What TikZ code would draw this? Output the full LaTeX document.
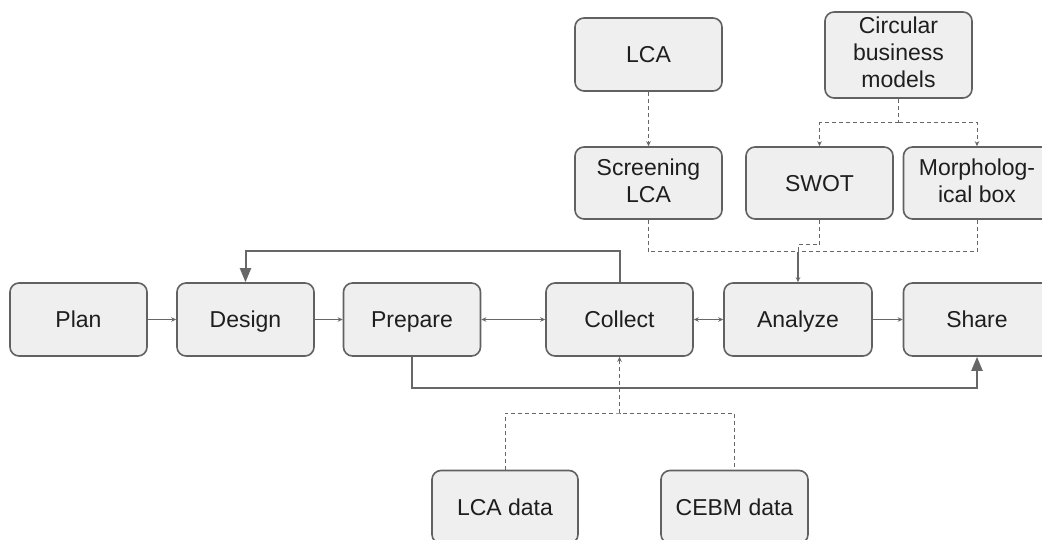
\documentclass[tikz,border=0pt]{standalone}
\usepackage{fontspec}
\setmainfont{Liberation Sans}
\usetikzlibrary{arrows.meta}
\definecolor{boxfill}{HTML}{EFEFEF}
\definecolor{boxline}{HTML}{616161}
\definecolor{linkcol}{HTML}{676767}
\definecolor{txt}{HTML}{1E1E1E}
% invisible strut that centres capitals in each box
\newcommand\capstrut{\rule[-5pt]{0pt}{26.5pt}}
\tikzset{
  box/.style={draw=boxline, fill=boxfill, line width=1.6pt, rounded corners=9pt,
    minimum width=147pt, minimum height=73pt, inner sep=0pt, align=center,
    text=txt, font=\fontsize{23}{27}\selectfont,
    execute at begin node=\capstrut, execute at end node=\capstrut},
  link/.style={draw=linkcol, line width=1.1pt, -{Stealth[length=5pt,width=4.5pt]}},
  dlink/.style={draw=linkcol, line width=1.1pt, {Stealth[length=5pt,width=4.5pt]}-{Stealth[length=5pt,width=4.5pt]}},
  dash link/.style={draw=linkcol, line width=1pt, dash pattern=on 4pt off 3pt},
  loop link/.style={draw=linkcol, line width=2pt, -{Triangle[length=14pt,width=11pt]}},
}
\begin{document}
\begin{tikzpicture}[x=1pt,y=-1pt]
\useasboundingbox (0,0) rectangle (1042,540);
\fill[white] (0,0) rectangle (1042,540);
\clip (0,0) rectangle (1042,540);

% main process chain
\node[box, minimum width=137pt] (plan)    at (78.5,319.5) {Plan};
\node[box, minimum width=137pt] (design)  at (245.5,319.5) {Design};
\node[box, minimum width=137pt] (prepare) at (412,319.5) {Prepare};
\node[box] (collect) at (619.5,319.5) {Collect};
\node[box, minimum width=148pt] (analyze) at (798,319.5) {Analyze};
\node[box] (share)   at (977,319.5) {Share};

% methods feeding the analysis
\node[box] (lca)   at (648.5,54.5) {LCA};
\node[box, minimum height=86pt] (cbm) at (898.5,55) {Circular\\business\\models};
\node[box, minimum height=72pt] (screen) at (648.5,183) {Screening\\LCA};
\node[box, minimum height=72pt] (swot)   at (819.5,183) {SWOT};
\node[box, minimum height=72pt] (morph)  at (977,183) {Morpholog-\\ical box};

% data sources
\node[box, minimum width=146pt] (lcadata) at (505,507) {LCA data};
\node[box] (cebm) at (734.5,507) {CEBM data};

% chain links
\draw[link]  (plan) -- (design);
\draw[link]  (design) -- (prepare);
\draw[dlink] (prepare) -- (collect);
\draw[dlink] (collect) -- (analyze);
\draw[link]  (analyze) -- (share);

% feedback and shortcut
\draw[loop link] (collect.north) -- ++(0,-31) -| (design.north);
\draw[loop link] (prepare.south) -- ++(0,31) -| (share.south);

% method links
\draw[dash link, -{Stealth[length=5pt,width=4.5pt]}] (lca) -- (screen);
\coordinate (cb) at (898.5,123);
\draw[dash link] (cbm.south) -- (cb);
\draw[dash link, -{Stealth[length=5pt,width=4.5pt]}] (cb) -| (swot.north);
\draw[dash link, -{Stealth[length=5pt,width=4.5pt]}] (cb) -| (morph.north);

\coordinate (merge) at (798,252);
\draw[dash link] (screen.south) |- (merge);
\draw[dash link] (morph.south) |- (merge);
\draw[dash link] (swot.south) -- ++(0,25) -| (merge);
\draw[link] (merge) -- (analyze.north);

% data links
\coordinate (db) at (619.5,413);
\draw[dash link] (lcadata.north) |- (db) -| (cebm.north);
\draw[dash link, -{Stealth[length=5pt,width=4.5pt]}] (db) -- (collect.south);
\end{tikzpicture}
\end{document}
